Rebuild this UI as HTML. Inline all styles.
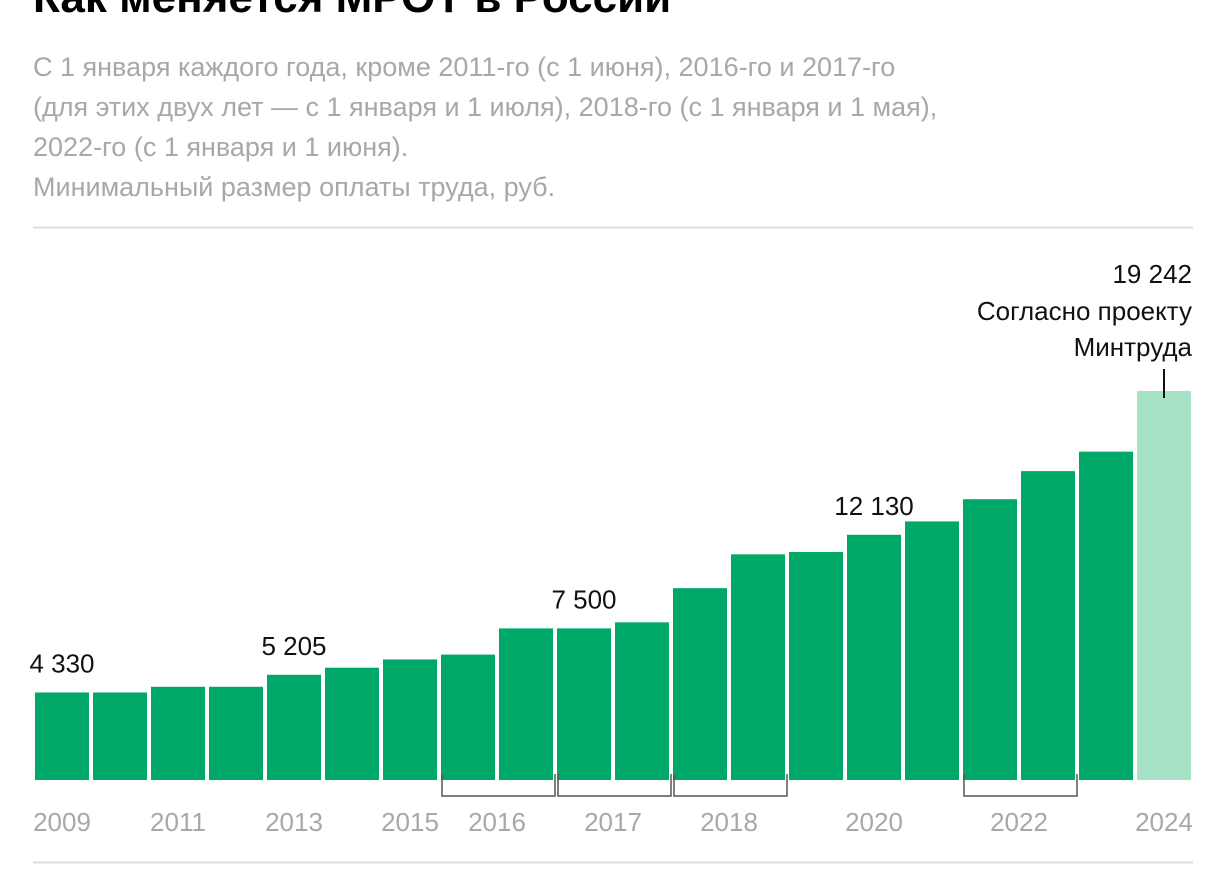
<!DOCTYPE html>
<html><head><meta charset="utf-8">
<style>
body{margin:0;background:#fff;width:1226px;height:889px;overflow:hidden;font-family:"Liberation Sans",sans-serif;}
svg{display:block}
</style></head>
<body>
<svg width="1226" height="889" id="chart">
<text x="33" y="12" font-size="44" font-weight="bold" fill="#000">Как меняется МРОТ в России</text>
<g fill="#a8a8a8" font-size="27">
<text x="33" y="76">С 1 января каждого года, кроме 2011-го (с 1 июня), 2016-го и 2017-го</text>
<text x="33" y="116">(для этих двух лет — с 1 января и 1 июля), 2018-го (с 1 января и 1 мая),</text>
<text x="33" y="156">2022-го (с 1 января и 1 июня).</text>
<text x="33" y="196">Минимальный размер оплаты труда, руб.</text>
</g>
<line x1="33" y1="227.5" x2="1193" y2="227.5" stroke="#ddd" stroke-width="2"/>
<line x1="33" y1="862.5" x2="1193" y2="862.5" stroke="#ddd" stroke-width="2"/>
<g id="bars"></g><g id="labels"></g>
</svg>
<script>
const values=[4330,4330,4611,4611,5205,5554,5965,6204,7500,7500,7800,9489,11163,11280,12130,12792,13890,15279,16242,19242];
const projected=[false,false,false,false,false,false,false,false,false,false,false,false,false,false,false,false,false,false,false,true];
const valueLabels={0:"4 330",4:"5 205",9:"7 500",14:"12 130"};
const xLabels=[["2009",0,0],["2011",2,2],["2013",4,4],["2015",6,6],["2016",7,8],["2017",9,10],["2018",11,12],["2020",14,14],["2022",16,17],["2024",19,19]];
const brackets=[[7,8],[9,10],[11,12],[16,17]];
const NS="http://www.w3.org/2000/svg";
const base=780,x0=35,pitch=58,bw=54,scale=389/19242;
const xs=i=>x0+i*pitch, ys=v=>base-v*scale;
const svg=document.getElementById('chart');
function mk(t,a){const e=document.createElementNS(NS,t);for(const k in a)e.setAttribute(k,a[k]);svg.appendChild(e);return e;}
values.forEach((v,i)=>{
 const r=mk('rect',{x:xs(i),y:ys(v),width:bw,height:base-ys(v),fill:projected[i]?'#a6e2c6':'#00a968'});
 
 
 if(valueLabels[i]){
  const t=mk('text',{x:xs(i)+bw/2,y:ys(v)-20,'text-anchor':'middle','font-size':'26',fill:'#111'});
  t.textContent=valueLabels[i];
  
  
 }
});
const last=values.length-1,lx=xs(last)+bw/2;
const tk=mk('line',{x1:lx,y1:ys(values[last])-22,x2:lx,y2:ys(values[last])+7,stroke:'#111','stroke-width':2});


[["19 242",283],["Согласно проекту",320],["Минтруда",356]].forEach(([s,y])=>{
 const t=mk('text',{x:1192,y:y,'text-anchor':'end','font-size':'26',fill:'#111'});
 t.textContent=s;
 
 
});
brackets.forEach(([a,b])=>{
 const x1=xs(a)+1,x2=xs(b)+bw+2;
 const p=mk('path',{d:`M${x1} 774V796H${x2}V774`,fill:'none',stroke:'#555','stroke-width':1.5});
 
 
});
xLabels.forEach(([s,a,b])=>{
 const c=(xs(a)+xs(b)+bw)/2;
 const t=mk('text',{x:c,y:831,'text-anchor':'middle','font-size':'26',fill:'#a8a8a8'});
 t.textContent=s;
 
 
});
</script>
</body></html>
